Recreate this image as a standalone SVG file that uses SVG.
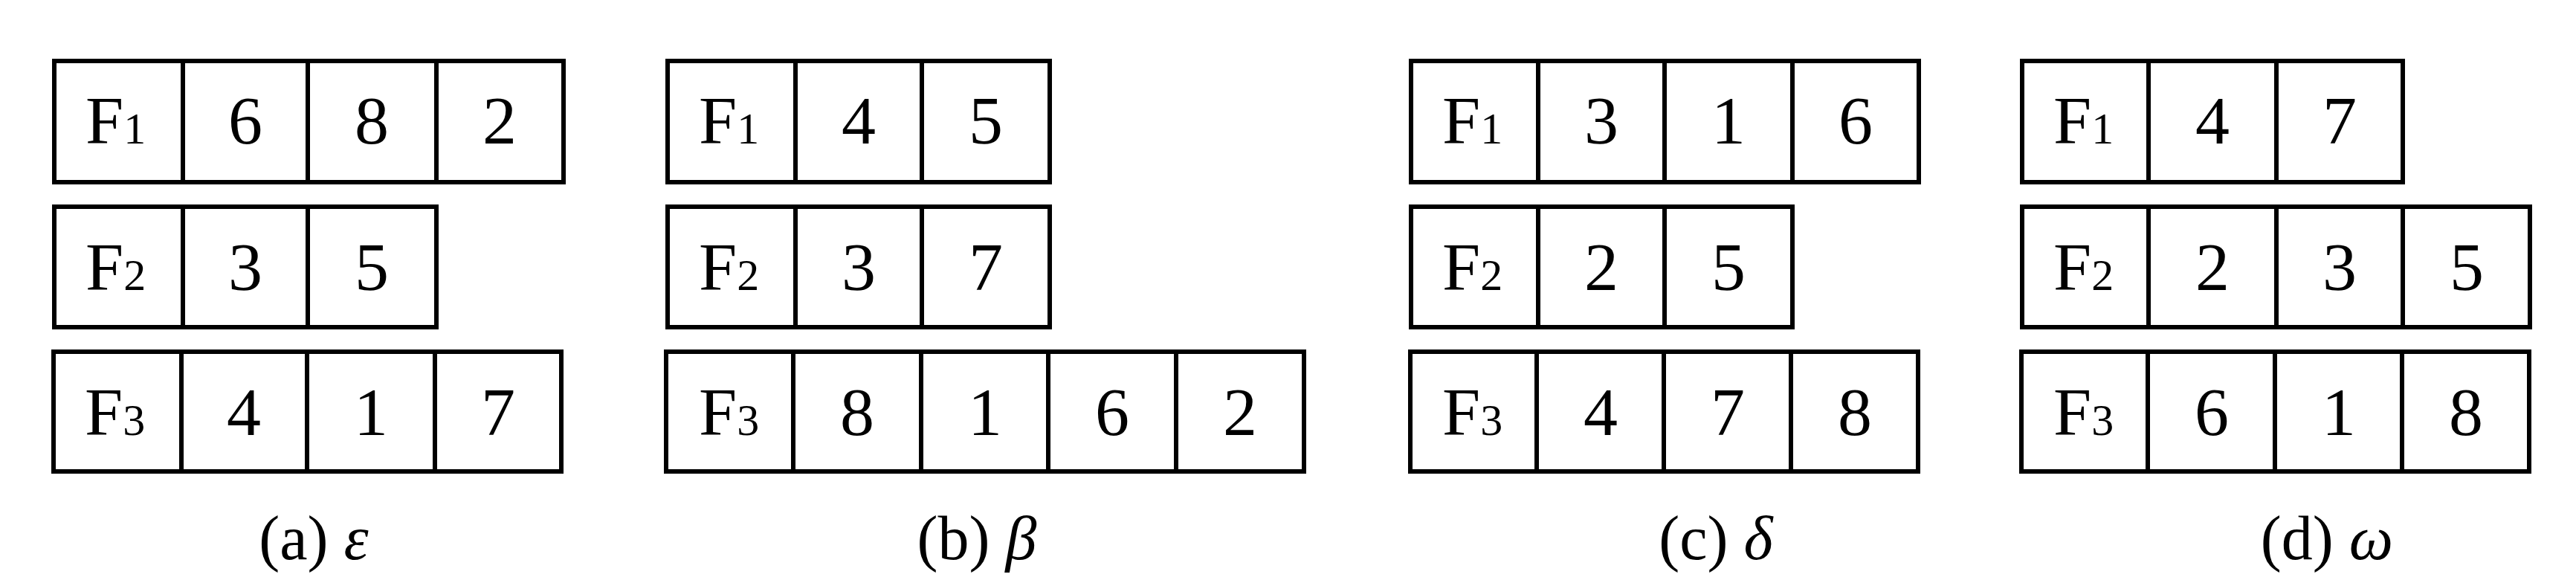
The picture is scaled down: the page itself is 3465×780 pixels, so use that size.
<svg xmlns="http://www.w3.org/2000/svg" width="3465" height="780" viewBox="0 0 3465 780">
<style>
.c{fill:#fff;stroke:#000;stroke-width:6}
text{font-family:"Liberation Serif","Times New Roman",serif;fill:#000}
.d{font-size:92px;text-anchor:middle}
.s{font-size:60px}
.l{font-size:84px;text-anchor:middle}
</style>
<rect width="3465" height="780" fill="#fff"/>
<g id="panel-a">
<g id="a-F1"><rect class="c" x="73" y="82" width="685" height="163"/><path d="M246 82V245M414 82V245M587 82V245" stroke="#000" stroke-width="6"/>
<text x="115" y="193" style="font-size:92px">F<tspan class="s">1</tspan></text><text class="d" x="330" y="193">6</text><text class="d" x="500" y="193">8</text><text class="d" x="672" y="193">2</text></g>
<g id="a-F2"><rect class="c" x="73" y="278" width="514" height="162"/><path d="M246 278V440M414 278V440" stroke="#000" stroke-width="6"/>
<text x="115" y="390" style="font-size:92px">F<tspan class="s">2</tspan></text><text class="d" x="330" y="390">3</text><text class="d" x="500" y="390">5</text></g>
<g id="a-F3"><rect class="c" x="72" y="473" width="683" height="161"/><path d="M244 473V634M413 473V634M585 473V634" stroke="#000" stroke-width="6"/>
<text x="114" y="585" style="font-size:92px">F<tspan class="s">3</tspan></text><text class="d" x="328" y="585">4</text><text class="d" x="499" y="585">1</text><text class="d" x="670" y="585">7</text></g>
<text class="l" x="422" y="752">(a) <tspan font-style="italic">ε</tspan></text>
</g>
<g id="panel-b">
<g id="b-F1"><rect class="c" x="898" y="82" width="514" height="163"/><path d="M1070 82V245M1240 82V245" stroke="#000" stroke-width="6"/>
<text x="940" y="193" style="font-size:92px">F<tspan class="s">1</tspan></text><text class="d" x="1155" y="193">4</text><text class="d" x="1326" y="193">5</text></g>
<g id="b-F2"><rect class="c" x="898" y="278" width="514" height="162"/><path d="M1070 278V440M1240 278V440" stroke="#000" stroke-width="6"/>
<text x="940" y="390" style="font-size:92px">F<tspan class="s">2</tspan></text><text class="d" x="1155" y="390">3</text><text class="d" x="1326" y="390">7</text></g>
<g id="b-F3"><rect class="c" x="896" y="473" width="858" height="161"/><path d="M1067 473V634M1239 473V634M1410 473V634M1582 473V634" stroke="#000" stroke-width="6"/>
<text x="940" y="585" style="font-size:92px">F<tspan class="s">3</tspan></text><text class="d" x="1153" y="585">8</text><text class="d" x="1325" y="585">1</text><text class="d" x="1496" y="585">6</text><text class="d" x="1668" y="585">2</text></g>
<text class="l" x="1314" y="752">(b) <tspan font-style="italic">β</tspan></text>
</g>
<g id="panel-c">
<g id="c-F1"><rect class="c" x="1898" y="82" width="683" height="163"/><path d="M2069 82V245M2239 82V245M2411 82V245" stroke="#000" stroke-width="6"/>
<text x="1940" y="193" style="font-size:92px">F<tspan class="s">1</tspan></text><text class="d" x="2154" y="193">3</text><text class="d" x="2325" y="193">1</text><text class="d" x="2496" y="193">6</text></g>
<g id="c-F2"><rect class="c" x="1898" y="278" width="513" height="162"/><path d="M2069 278V440M2239 278V440" stroke="#000" stroke-width="6"/>
<text x="1940" y="390" style="font-size:92px">F<tspan class="s">2</tspan></text><text class="d" x="2154" y="390">2</text><text class="d" x="2325" y="390">5</text></g>
<g id="c-F3"><rect class="c" x="1897" y="473" width="683" height="161"/><path d="M2067 473V634M2238 473V634M2409 473V634" stroke="#000" stroke-width="6"/>
<text x="1940" y="585" style="font-size:92px">F<tspan class="s">3</tspan></text><text class="d" x="2153" y="585">4</text><text class="d" x="2324" y="585">7</text><text class="d" x="2495" y="585">8</text></g>
<text class="l" x="2308" y="752">(c) <tspan font-style="italic">δ</tspan></text>
</g>
<g id="panel-d">
<g id="d-F1"><rect class="c" x="2720" y="82" width="512" height="163"/><path d="M2890 82V245M3062 82V245" stroke="#000" stroke-width="6"/>
<text x="2762" y="193" style="font-size:92px">F<tspan class="s">1</tspan></text><text class="d" x="2976" y="193">4</text><text class="d" x="3147" y="193">7</text></g>
<g id="d-F2"><rect class="c" x="2720" y="278" width="683" height="162"/><path d="M2890 278V440M3062 278V440M3232 278V440" stroke="#000" stroke-width="6"/>
<text x="2762" y="390" style="font-size:92px">F<tspan class="s">2</tspan></text><text class="d" x="2976" y="390">2</text><text class="d" x="3147" y="390">3</text><text class="d" x="3318" y="390">5</text></g>
<g id="d-F3"><rect class="c" x="2719" y="473" width="683" height="161"/><path d="M2889 473V634M3060 473V634M3231 473V634" stroke="#000" stroke-width="6"/>
<text x="2762" y="585" style="font-size:92px">F<tspan class="s">3</tspan></text><text class="d" x="2975" y="585">6</text><text class="d" x="3146" y="585">1</text><text class="d" x="3317" y="585">8</text></g>
<text class="l" x="3130" y="752">(d) <tspan font-style="italic">ω</tspan></text>
</g>
<g id="connectors"/>
</svg>
